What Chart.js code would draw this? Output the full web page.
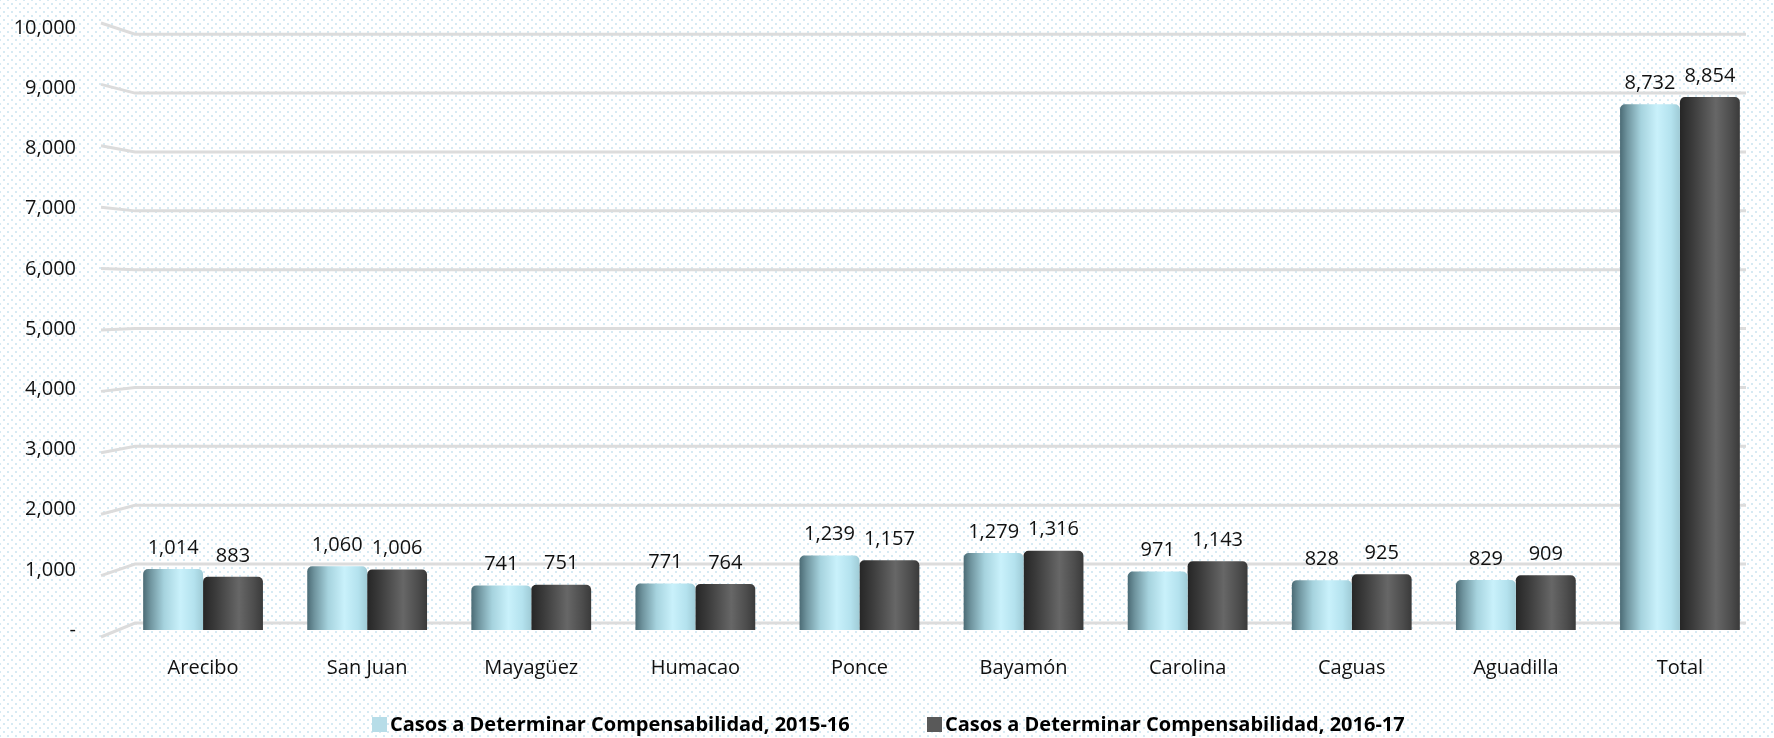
<!DOCTYPE html>
<html>
<head>
<meta charset="utf-8">
<script src="https://cdn.jsdelivr.net/npm/chart.js@4.4.0/dist/chart.umd.min.js"></script>
<style>
  html, body { margin: 0; padding: 0; }
  body {
    width: 1774px; height: 738px; overflow: hidden;
    background-color: #ffffff;
    background-image:
      radial-gradient(#d6eaf3 1px, transparent 1.4px),
      radial-gradient(#d6eaf3 1px, transparent 1.4px);
    background-size: 8px 8px;
    background-position: 0 0, 4px 4px;
  }
  #wrap { position: relative; width: 1774px; height: 738px; overflow: hidden; }
  #myChart { position: absolute; left: 0; top: -21px; }
  #legend {
    position: absolute; left: 0; top: 711px; width: 1774px; height: 26px;
    font-family: 'Open Sans', sans-serif; font-weight: bold; font-size: 20px;
    color: #000; line-height: 26px;
  }
  #legend span.item { position: absolute; top: 0; white-space: nowrap; }
  #legend span.box { display: inline-block; width: 15px; height: 15px; margin-right: 3px; vertical-align: -1px; }
</style>
</head>
<body>
<div id="wrap">
  <canvas id="myChart" width="1774" height="759"></canvas>
  <div id="legend"></div>
</div>
<script>
const regions = ["Arecibo", "San Juan", "Mayagüez", "Humacao", "Ponce", "Bayamón", "Carolina", "Caguas", "Aguadilla", "Total"];
const casos1516 = [1014, 1060, 741, 771, 1239, 1279, 971, 828, 829, 8732];
const casos1617 = [883, 1006, 751, 764, 1157, 1316, 1143, 925, 909, 8854];
const seriesNames = ["Casos a Determinar Compensabilidad, 2015-16", "Casos a Determinar Compensabilidad, 2016-17"];
const seriesColors = ["#b7dde8", "#595959"];

const CAT_PCT = 0.73;

// cylinder-like horizontal gradient for each bar
function barFill(stops, solid, dsIndex) {
  return function (context) {
    const chart = context.chart;
    const x = chart.scales.x;
    if (!chart.chartArea || !x || context.dataIndex === undefined) return solid;
    const center = x.getPixelForValue(context.dataIndex);
    const catW = (chart.chartArea.right - chart.chartArea.left) / regions.length;
    const bw = catW * CAT_PCT / 2;
    const left = dsIndex === 0 ? center - bw : center;
    const g = chart.ctx.createLinearGradient(left, 0, left + bw, 0);
    stops.forEach(s => g.addColorStop(s[0], s[1]));
    return g;
  };
}

const lightStops = [[0, "#4b6b75"], [0.12, "#6f949e"], [0.35, "#a6d3de"], [0.62, "#c9f1fb"], [0.85, "#b4e2ee"], [1, "#9fcbd6"]];
const darkStops = [[0, "#262626"], [0.2, "#3a3a3a"], [0.6, "#676767"], [0.85, "#4d4d4d"], [1, "#3a3a3a"]];

// 3D-looking grid lines, positions taken from the y scale
const gridPlugin = {
  id: "grid3d",
  beforeDatasetsDraw(chart) {
    const y = chart.scales.y;
    const ctx = chart.ctx;
    const base = y.getPixelForValue(0);
    ctx.save();
    ctx.strokeStyle = "#dcdcdc";
    ctx.lineWidth = 3;
    y.ticks.forEach(t => {
      const p = y.getPixelForValue(t.value);
      const h = p - 7 + (base - p) * 0.022;
      const l = p + 7 - (base - p) * 0.02;
      ctx.beginPath();
      ctx.moveTo(101, l);
      ctx.lineTo(135, h);
      ctx.lineTo(1746, h);
      ctx.stroke();
    });
    ctx.restore();
  }
};

// value labels above the bars
const valuePlugin = {
  id: "values",
  afterDatasetsDraw(chart) {
    const ctx = chart.ctx;
    ctx.save();
    ctx.font = "20px 'Open Sans'";
    ctx.fillStyle = "#111";
    ctx.textAlign = "center";
    ctx.textBaseline = "bottom";
    chart.data.datasets.forEach((ds, i) => {
      chart.getDatasetMeta(i).data.forEach((bar, j) => {
        ctx.fillText(ds.data[j].toLocaleString("en-US"), bar.x, bar.y - 11);
      });
    });
    ctx.restore();
  }
};

new Chart(document.getElementById("myChart"), {
  type: "bar",
  data: {
    labels: regions,
    datasets: [
      {
        label: seriesNames[0],
        data: casos1516,
        backgroundColor: barFill(lightStops, seriesColors[0], 0),
        borderRadius: { topLeft: 5, topRight: 5 },
        borderSkipped: "bottom",
        categoryPercentage: CAT_PCT,
        barPercentage: 1
      },
      {
        label: seriesNames[1],
        data: casos1617,
        backgroundColor: barFill(darkStops, seriesColors[1], 1),
        borderRadius: { topLeft: 5, topRight: 5 },
        borderSkipped: "bottom",
        categoryPercentage: CAT_PCT,
        barPercentage: 1
      }
    ]
  },
  options: {
    responsive: false,
    animation: false,
    layout: { padding: { top: 0, right: 12, left: 0, bottom: 38 } },
    scales: {
      x: {
        grid: { display: false },
        border: { display: false },
        ticks: { color: "#111", font: { family: "'Open Sans'", size: 20 }, padding: 18 },
        afterFit: s => { s.height = 70; }
      },
      y: {
        min: 0,
        max: 10000,
        grid: { display: false },
        border: { display: false },
        ticks: {
          stepSize: 1000,
          padding: 37,
          color: "#111",
          font: { family: "'Open Sans'", size: 20 },
          callback: v => v === 0 ? "-" : v.toLocaleString("en-US")
        },
        afterFit: s => { s.width = 121; }
      }
    },
    plugins: {
      legend: { display: false },
      tooltip: { enabled: false }
    }
  },
  plugins: [gridPlugin, valuePlugin]
});

// legend as html text
const legend = document.getElementById("legend");
const legendX = [372, 927];
seriesNames.forEach((name, i) => {
  const item = document.createElement("span");
  item.className = "item";
  item.style.left = legendX[i] + "px";
  const box = document.createElement("span");
  box.className = "box";
  box.style.background = seriesColors[i];
  item.appendChild(box);
  item.appendChild(document.createTextNode(name));
  legend.appendChild(item);
});
</script>
</body>
</html>
